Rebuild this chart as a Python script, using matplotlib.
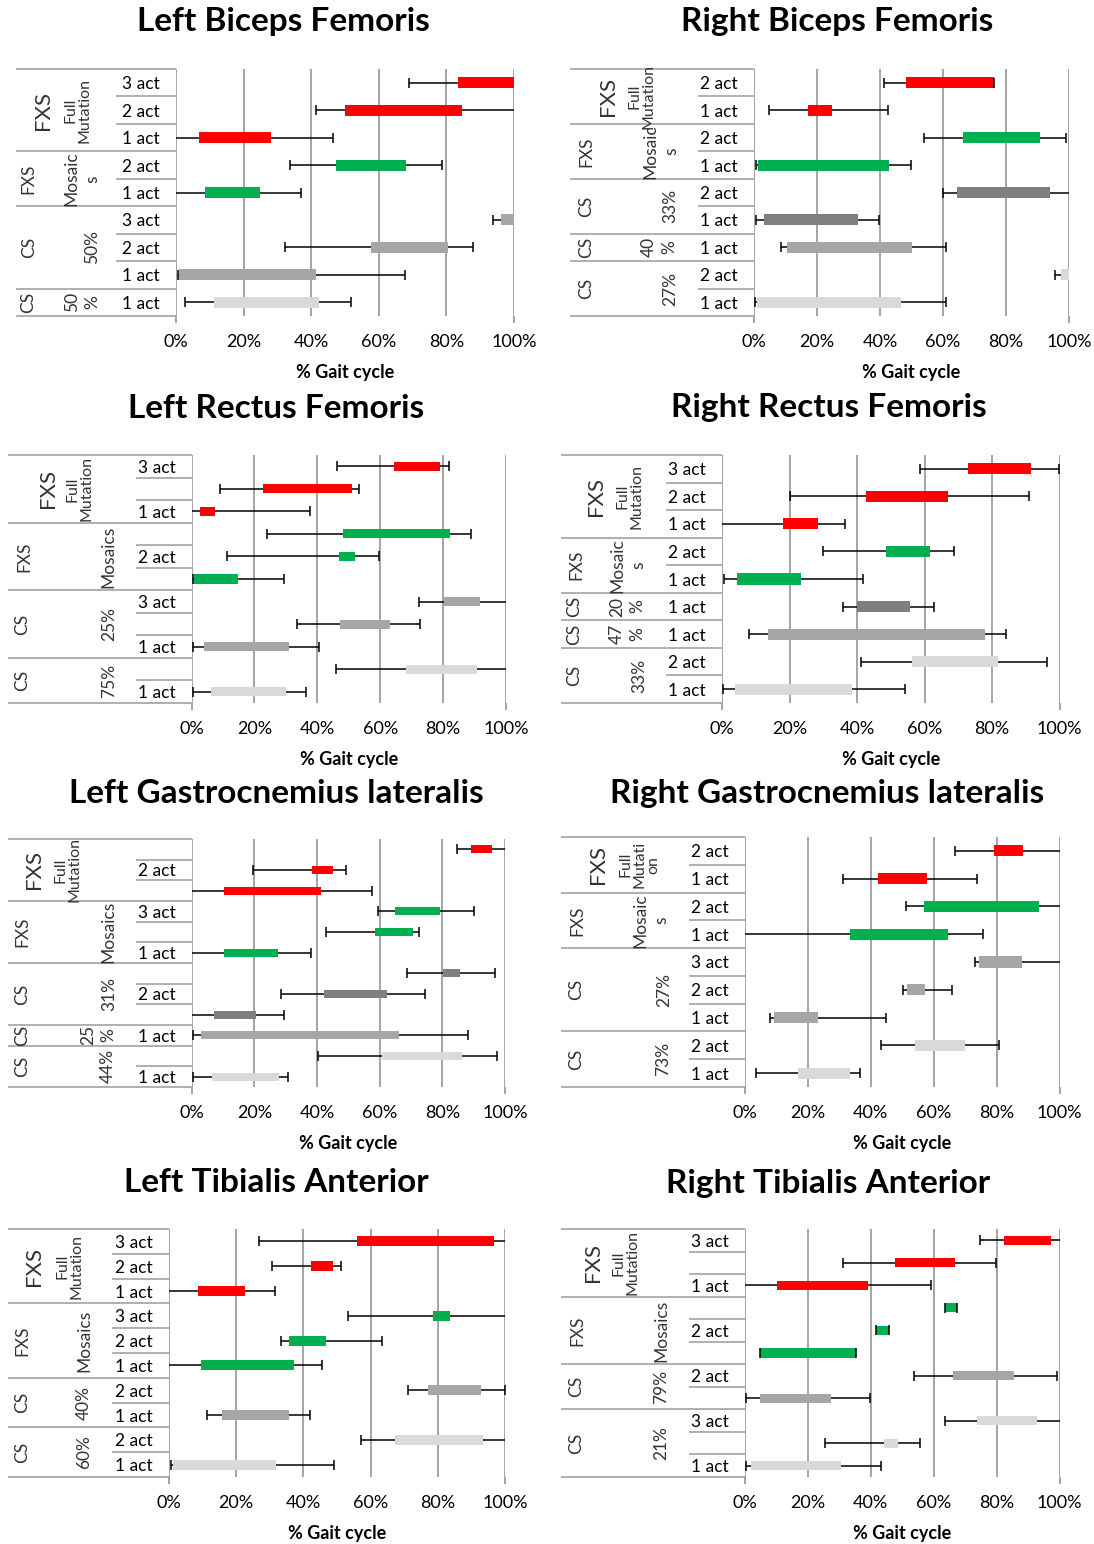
import matplotlib.pyplot as plt

plt.rcParams['font.family'] = ['Lato', 'DejaVu Sans']

W, H = 1094, 1544

RED = '#FF0000'
GREEN = '#00B050'
DARK = '#7F7F7F'
MID = '#A6A6A6'
LIGHT = '#D9D9D9'
LINE = '#9A9A9A'

tick_vals = [0, 20, 40, 60, 80, 100]
tick_labels = ['0%', '20%', '40%', '60%', '80%', '100%']

# Left Biceps Femoris
lbf_rows = ['3 act', '2 act', '1 act', '2 act', '1 act', '3 act', '2 act', '1 act', '1 act']
lbf_groups = [('FXS', 'Full\nMutation', 3), ('FXS', 'Mosaic\ns', 2), ('CS', '50%', 3), ('CS', '50\n%', 1)]
lbf_wlo = [69.0, 41.4, 0.0, 33.7, 0.0, 93.9, 32.2, 0.5, 2.7]
lbf_lo = [83.5, 49.9, 6.7, 47.2, 8.6, 96.3, 57.6, 0.8, 11.3]
lbf_hi = [100.0, 84.7, 28.0, 68.1, 24.8, 100.0, 80.6, 41.4, 42.4]
lbf_whi = [100.0, 100.0, 46.5, 78.8, 37.0, 100.0, 87.8, 67.8, 51.8]

# Right Biceps Femoris
rbf_rows = ['2 act', '1 act', '2 act', '1 act', '2 act', '1 act', '1 act', '2 act', '1 act']
rbf_groups = [('FXS', 'Full\nMutation', 2), ('FXS', 'Mosaic\ns', 2), ('CS', '33%', 2), ('CS', '40\n%', 1), ('CS', '27%', 2)]
rbf_wlo = [41.4, 4.9, 54.0, 0.5, 60.0, 0.5, 8.7, 95.6, 0.4]
rbf_lo = [48.2, 17.1, 66.5, 1.3, 64.6, 3.3, 10.6, 97.5, 0.8]
rbf_hi = [76.1, 24.8, 90.9, 42.7, 94.0, 32.9, 50.1, 100.0, 46.6]
rbf_whi = [76.1, 42.5, 99.1, 49.8, 100.0, 39.7, 61.0, 100.0, 61.0]

# Left Rectus Femoris
lrf_rows = ['3 act', '', '1 act', '', '2 act', '', '3 act', '', '1 act', '', '1 act']
lrf_groups = [('FXS', 'Full\nMutation', 3), ('FXS', 'Mosaics', 3), ('CS', '25%', 3), ('CS', '75%', 2)]
lrf_wlo = [46.3, 9.1, 0.0, 23.9, 11.3, 0.5, 72.3, 33.5, 0.3, 45.8, 0.3]
lrf_lo = [64.4, 22.8, 2.8, 48.2, 46.9, 0.9, 80.3, 47.2, 3.9, 68.2, 6.1]
lrf_hi = [79.0, 50.9, 7.4, 82.3, 52.0, 14.9, 91.6, 63.1, 31.0, 90.9, 29.9]
lrf_whi = [82.0, 53.2, 37.6, 88.8, 59.7, 29.4, 100.0, 72.8, 40.6, 100.0, 36.5]

# Right Rectus Femoris
rrf_rows = ['3 act', '2 act', '1 act', '2 act', '1 act', '1 act', '1 act', '2 act', '1 act']
rrf_groups = [('FXS', 'Full\nMutation', 3), ('FXS', 'Mosaic\ns', 2), ('CS', '20\n%', 1), ('CS', '47\n%', 1), ('CS', '33%', 2)]
rrf_wlo = [58.6, 20.1, 0.0, 30.0, 0.5, 35.8, 8.1, 41.2, 0.2]
rrf_lo = [73.0, 42.6, 18.0, 48.6, 4.4, 40.0, 13.5, 56.3, 3.8]
rrf_hi = [91.6, 67.0, 28.3, 61.6, 23.4, 55.7, 77.9, 81.7, 38.4]
rrf_whi = [99.8, 90.9, 36.5, 68.7, 41.8, 62.8, 84.2, 96.4, 54.2]

# Left Gastrocnemius lateralis
lgl_rows = ['', '2 act', '', '3 act', '', '1 act', '', '2 act', '', '1 act', '', '1 act']
lgl_groups = [('FXS', 'Full\nMutation', 3), ('FXS', 'Mosaics', 3), ('CS', '31%', 3), ('CS', '25\n%', 1), ('CS', '44%', 2)]
lgl_wlo = [84.6, 19.5, 0.0, 59.4, 42.9, 0.0, 68.6, 28.4, 0.0, 0.5, 40.4, 0.3]
lgl_lo = [89.2, 38.4, 10.2, 64.9, 58.5, 10.4, 80.1, 42.4, 7.2, 3.1, 60.9, 6.4]
lgl_hi = [96.0, 45.1, 41.3, 79.4, 70.6, 27.6, 85.7, 62.3, 20.6, 66.2, 86.3, 28.0]
lgl_whi = [100.0, 49.4, 57.7, 90.1, 72.4, 38.2, 96.9, 74.4, 29.4, 88.1, 97.5, 30.7]

# Right Gastrocnemius lateralis
rgl_rows = ['2 act', '1 act', '2 act', '1 act', '3 act', '2 act', '1 act', '2 act', '1 act']
rgl_groups = [('FXS', 'Full\nMutati\non', 2), ('FXS', 'Mosaic\ns', 2), ('CS', '27%', 3), ('CS', '73%', 2)]
rgl_wlo = [66.8, 31.1, 51.1, 0.0, 73.2, 50.3, 8.0, 43.3, 3.4]
rgl_lo = [79.3, 42.4, 56.8, 33.4, 74.4, 51.5, 9.3, 53.9, 16.9]
rgl_hi = [88.5, 57.7, 93.6, 64.6, 88.1, 57.2, 23.1, 69.9, 33.3]
rgl_whi = [100.0, 73.9, 100.0, 75.5, 100.0, 65.9, 44.9, 80.7, 36.6]

# Left Tibialis Anterior
lta_rows = ['3 act', '2 act', '1 act', '3 act', '2 act', '1 act', '2 act', '1 act', '2 act', '1 act']
lta_groups = [('FXS', 'Full\nMutation', 3), ('FXS', 'Mosaics', 3), ('CS', '40%', 2), ('CS', '60%', 2)]
lta_wlo = [26.8, 30.7, 0.0, 53.4, 33.4, 0.0, 71.1, 11.2, 57.0, 0.5]
lta_lo = [55.9, 42.2, 8.5, 78.7, 35.8, 9.4, 77.0, 15.8, 67.3, 1.3]
lta_hi = [96.8, 48.9, 22.5, 83.5, 46.7, 37.1, 93.0, 35.6, 93.6, 31.9]
lta_whi = [100.0, 51.1, 31.4, 100.0, 63.4, 45.5, 99.9, 41.9, 100.0, 49.1]

# Right Tibialis Anterior
rta_rows = ['3 act', '', '1 act', '', '2 act', '', '2 act', '', '3 act', '', '1 act']
rta_groups = [('FXS', 'Full\nMutation', 3), ('FXS', 'Mosaics', 3), ('CS', '79%', 2), ('CS', '21%', 3)]
rta_wlo = [74.6, 31.1, 0.0, 63.5, 41.5, 4.9, 53.7, 0.3, 63.5, 25.5, 0.3]
rta_lo = [82.3, 47.7, 10.2, 63.5, 41.5, 4.9, 66.2, 4.9, 73.8, 44.3, 2.0]
rta_hi = [97.4, 66.7, 39.1, 67.3, 45.9, 35.3, 85.6, 27.4, 92.7, 48.6, 30.4]
rta_whi = [100.0, 79.8, 59.0, 67.3, 45.9, 35.3, 99.2, 39.7, 100.0, 55.7, 43.3]


def draw_panel(fig, title, rows, groups, wlo, lo, hi, whi, colors, lay):
    x0, x1, yt, yb = lay['box']
    ax = fig.add_axes([x0 / W, 1 - yb / H, (x1 - x0) / W, (yb - yt) / H])
    n = len(rows)
    ax.set_xlim(0, 100)
    ax.set_ylim(n, 0)
    ppx = 100.0 / (x1 - x0)          # data units per pixel (x)
    ppy = n / (yb - yt)              # data units per pixel (y)

    def dx(xp):
        return (xp - x0) * ppx

    ypos = [i + 0.5 for i in range(n)]
    row_colors = [c for g, c in zip(groups, colors) for _ in range(g[2])]

    # whiskers + caps
    ax.hlines(ypos, wlo, whi, color='black', lw=1.1, zorder=2)
    for y, a, b in zip(ypos, wlo, whi):
        for v in (a, b):
            if 0 < v < 100:
                ax.plot([v], [y], marker='|', ms=7.5, mew=1.1, color='black', zorder=4)
    ax.barh(ypos, [h - l for l, h in zip(lo, hi)], left=lo, height=0.4,
            color=row_colors, zorder=3)

    # grid
    ax.set_xticks(tick_vals, tick_labels, fontsize=13)
    ax.grid(axis='x', color='#8C8C8C', lw=1.1)
    ax.set_axisbelow(True)
    for s in ax.spines.values():
        s.set_visible(False)
    ax.tick_params(axis='x', length=0, pad=13)
    ax.set_yticks(ypos, rows, fontsize=12.5)
    ax.tick_params(axis='y', length=0, pad=11.5)
    ax.vlines([0, 100], n, n + 7 * ppy, color='#8C8C8C', lw=1.1, clip_on=False)
    ax.set_xlabel('% Gait cycle', fontsize=13, fontweight='bold', labelpad=10)

    # category table
    tl, al = dx(lay['table_left']), dx(lay['act_left'])
    start = 0
    ax.hlines([0], tl, 0, color=LINE, lw=1.1, clip_on=False)
    for i, (outer, mid, cnt) in enumerate(groups):
        end = start + cnt
        for k in range(start + 1, end):
            ax.hlines([k], al, 0, color=LINE, lw=1.1, clip_on=False)
        ax.hlines([end], tl, 0, color=LINE, lw=1.1, clip_on=False)
        yc = (start + end) / 2
        ax.text(dx(lay['outer_x'][i]), yc, outer, rotation=90, ha='center', va='center',
                fontsize=16 if i == 0 else 12.5, color='#333333')
        ax.text(dx(lay['mid_x'][i]), yc, mid, rotation=90, ha='center', va='center',
                fontsize=11.5 if i == 0 else 12.5,
                linespacing=1.0 if i == 0 else 1.35,
                multialignment='center', color='#333333')
        start = end

    fig.text(lay['title_xy'][0] / W, 1 - lay['title_xy'][1] / H, title,
             ha='center', va='center', fontsize=24, fontweight='bold')
    return ax


fig = plt.figure(figsize=(W / 100, H / 100), dpi=100)

panels = [
    ('Left Biceps Femoris', lbf_rows, lbf_groups, lbf_wlo, lbf_lo, lbf_hi, lbf_whi,
     [RED, GREEN, MID, LIGHT],
     dict(box=(176, 514, 69, 316), table_left=16, act_left=116, title_xy=(283, 22),
          outer_x=[43, 28, 29, 28], mid_x=[77, 82, 92, 82])),
    ('Right Biceps Femoris', rbf_rows, rbf_groups, rbf_wlo, rbf_lo, rbf_hi, rbf_whi,
     [RED, GREEN, DARK, MID, LIGHT],
     dict(box=(754, 1069, 69, 316), table_left=570, act_left=698, title_xy=(837, 22),
          outer_x=[608, 586, 586, 586, 586], mid_x=[641, 661, 670, 659, 670])),
    ('Left Rectus Femoris', lrf_rows, lrf_groups, lrf_wlo, lrf_lo, lrf_hi, lrf_whi,
     [RED, GREEN, MID, LIGHT],
     dict(box=(191.6, 506, 455, 703), table_left=8, act_left=136, title_xy=(276, 408),
          outer_x=[48, 24, 22, 22], mid_x=[80, 108, 109, 109])),
    ('Right Rectus Femoris', rrf_rows, rrf_groups, rrf_wlo, rrf_lo, rrf_hi, rrf_whi,
     [RED, GREEN, DARK, MID, LIGHT],
     dict(box=(722, 1059.6, 455, 703), table_left=561, act_left=666, title_xy=(829, 408),
          outer_x=[596, 576, 574, 574, 574], mid_x=[629, 628, 627, 627, 639])),
    ('Left Gastrocnemius lateralis', lgl_rows, lgl_groups, lgl_wlo, lgl_lo, lgl_hi, lgl_whi,
     [RED, GREEN, DARK, MID, LIGHT],
     dict(box=(191.6, 505, 839, 1087), table_left=8, act_left=136, title_xy=(276, 793),
          outer_x=[34, 22, 22, 22, 22], mid_x=[68, 108, 109, 98, 108])),
    ('Right Gastrocnemius lateralis', rgl_rows, rgl_groups, rgl_wlo, rgl_lo, rgl_hi, rgl_whi,
     [RED, GREEN, MID, LIGHT],
     dict(box=(745, 1059.6, 837, 1087), table_left=561, act_left=689, title_xy=(827, 793),
          outer_x=[598, 577, 576, 576], mid_x=[639, 651, 664, 663])),
    ('Left Tibialis Anterior', lta_rows, lta_groups, lta_wlo, lta_lo, lta_hi, lta_whi,
     [RED, GREEN, MID, LIGHT],
     dict(box=(169, 505, 1229, 1477), table_left=8, act_left=112, title_xy=(276, 1183),
          outer_x=[34, 22, 22, 22], mid_x=[69, 84, 84, 84])),
    ('Right Tibialis Anterior', rta_rows, rta_groups, rta_wlo, rta_lo, rta_hi, rta_whi,
     [RED, GREEN, MID, LIGHT],
     dict(box=(745, 1059.6, 1229, 1477), table_left=561, act_left=689, title_xy=(828, 1183),
          outer_x=[593, 577, 576, 576], mid_x=[625, 661, 661, 661])),
]

for p in panels:
    draw_panel(fig, *p)

fig.savefig('out.png', dpi=100)
